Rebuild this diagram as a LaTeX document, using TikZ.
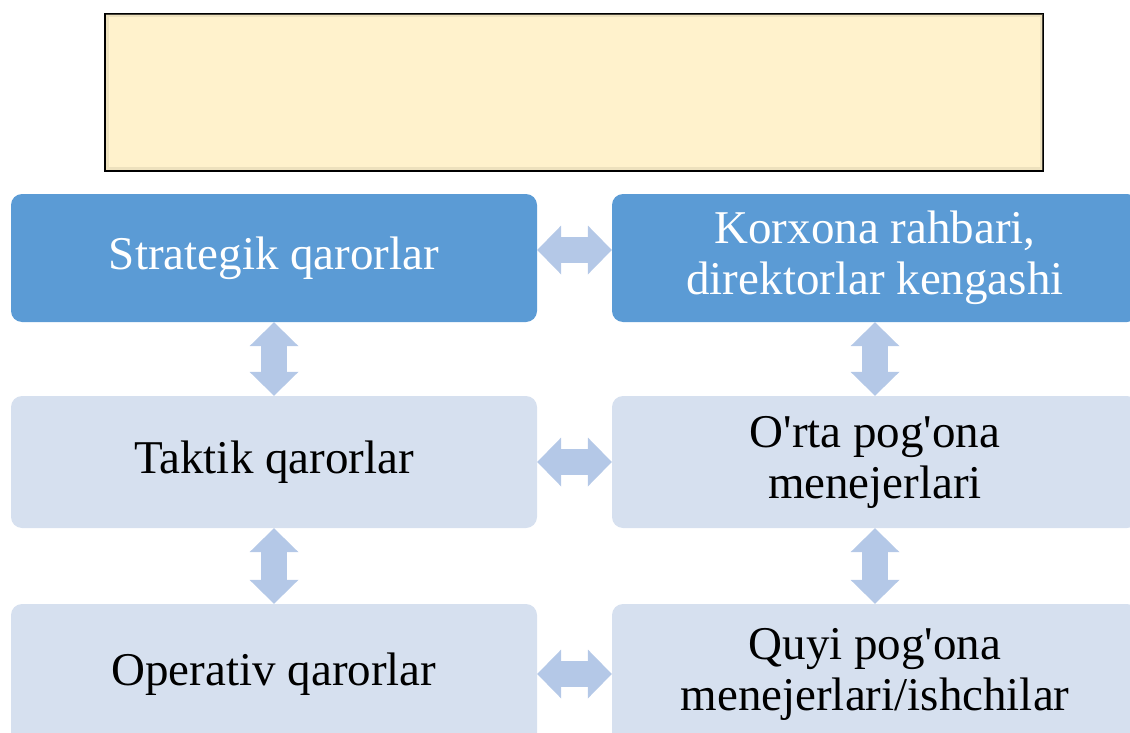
\documentclass[tikz,border=0pt]{standalone}
\usepackage{fontspec}
\setmainfont{Liberation Serif}[Ligatures=TeXOff]
\usetikzlibrary{arrows.meta}
\definecolor{BoxDark}{HTML}{5B9BD5}
\definecolor{BoxLight}{HTML}{D6E0EF}
\definecolor{LinkBlue}{HTML}{B4C8E7}
\definecolor{TitleFill}{HTML}{FFF2CC}

\begin{document}
\begin{tikzpicture}[x=1pt,y=-1pt,
    level/.style={rectangle, rounded corners=11pt, align=center, inner sep=0pt,
        minimum width=526pt, font=\fontsize{47}{51}\selectfont},
    toplevel/.style={level, fill=BoxDark, text=white, minimum height=128pt},
    lowlevel/.style={level, fill=BoxLight, text=black, minimum height=132pt},
    link/.style={draw=LinkBlue, line width=26pt,
        {Triangle[length=24pt,width=49pt,line width=0pt]}-{Triangle[length=24pt,width=49pt,line width=0pt]}}]
    \useasboundingbox (0,0) rectangle (1130,733);

    % Title frame
    \node[draw=black, line width=2pt, fill=TitleFill, minimum width=938pt,
        minimum height=157pt, inner sep=0pt] (title) at (574,92.5) {};
    \draw[TitleFill!80!black, line width=3pt, opacity=0.35]
        ([xshift=3pt,yshift=-3pt]title.north west) rectangle ([xshift=-3pt,yshift=3pt]title.south east);

    % Decisions (left) and who takes them (right)
    \node[toplevel] (strat) at (274,258) {Strategik qarorlar};
    \node[toplevel] (korx) at (875,258) {Korxona rahbari,\\direktorlar kengashi};

    \node[lowlevel] (taktik) at (274,462) {Taktik qarorlar};
    \node[lowlevel] (orta) at (875,462) {O'rta pog'ona\\menejerlari};

    \node[lowlevel, minimum height=140pt] (oper) at (274,674) {Operativ qarorlar};
    \node[lowlevel, minimum height=140pt] (quyi) at (875,674) {Quyi pog'ona\\menejerlari/ishchilar};

    % Arrows
    \draw[link] ([yshift=8pt]strat.east) -- ([yshift=8pt]korx.west);
    \draw[link] (taktik) -- (orta);
    \draw[link] (oper) -- (quyi);

    \draw[link] (strat) -- (taktik);
    \draw[link] (taktik) -- (oper);
    \draw[link] (korx) -- (orta);
    \draw[link] (orta) -- (quyi);
\end{tikzpicture}
\end{document}
